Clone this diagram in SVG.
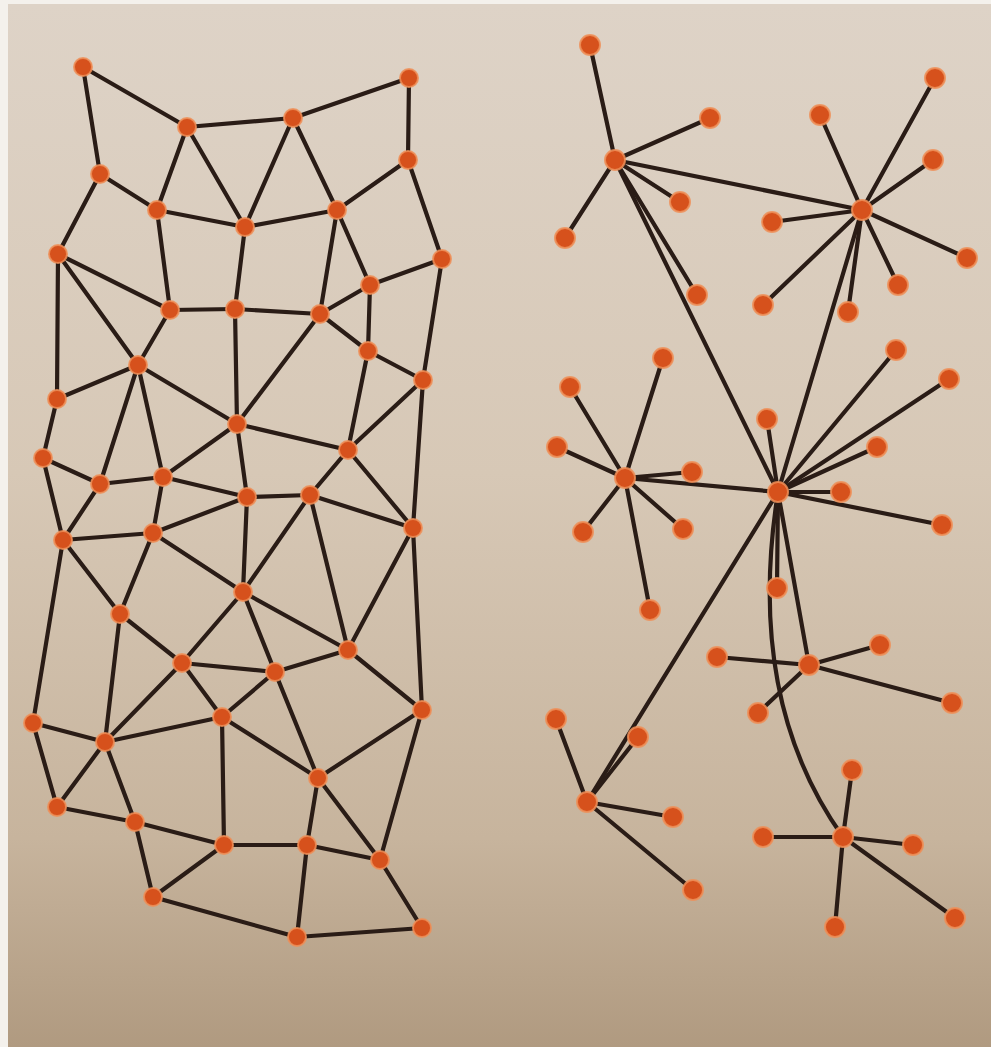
<svg xmlns="http://www.w3.org/2000/svg" width="991" height="1047" viewBox="0 0 991 1047">
<defs>
<linearGradient id="paper" x1="0" y1="0" x2="0" y2="1">
<stop offset="0" stop-color="#ded3c7"/>
<stop offset="0.45" stop-color="#d7c8b6"/>
<stop offset="0.8" stop-color="#c7b49d"/>
<stop offset="1" stop-color="#b09a80"/>
</linearGradient>
<style>
.e{stroke:#2a1c16;stroke-width:4.2;stroke-linecap:round;fill:none}
.n{fill:#d6511c;stroke:#ee8f58;stroke-width:2;stroke-opacity:0.85}
.s{r:9}
.b{r:10}
</style>
</defs>
<rect width="991" height="1047" fill="#f4f1ec"/>
<rect x="8" y="4" width="983" height="1043" fill="url(#paper)"/>
<g id="connectors">
<line class="e" x1="83" y1="67" x2="187" y2="127"/>
<line class="e" x1="83" y1="67" x2="100" y2="174"/>
<line class="e" x1="187" y1="127" x2="293" y2="118"/>
<line class="e" x1="293" y1="118" x2="409" y2="78"/>
<line class="e" x1="409" y1="78" x2="408" y2="160"/>
<line class="e" x1="187" y1="127" x2="157" y2="210"/>
<line class="e" x1="187" y1="127" x2="245" y2="227"/>
<line class="e" x1="293" y1="118" x2="245" y2="227"/>
<line class="e" x1="293" y1="118" x2="337" y2="210"/>
<line class="e" x1="100" y1="174" x2="157" y2="210"/>
<line class="e" x1="100" y1="174" x2="58" y2="254"/>
<line class="e" x1="157" y1="210" x2="245" y2="227"/>
<line class="e" x1="245" y1="227" x2="337" y2="210"/>
<line class="e" x1="337" y1="210" x2="408" y2="160"/>
<line class="e" x1="408" y1="160" x2="442" y2="259"/>
<line class="e" x1="157" y1="210" x2="170" y2="310"/>
<line class="e" x1="245" y1="227" x2="235" y2="309"/>
<line class="e" x1="337" y1="210" x2="320" y2="314"/>
<line class="e" x1="337" y1="210" x2="370" y2="285"/>
<line class="e" x1="370" y1="285" x2="442" y2="259"/>
<line class="e" x1="58" y1="254" x2="170" y2="310"/>
<line class="e" x1="58" y1="254" x2="138" y2="365"/>
<line class="e" x1="58" y1="254" x2="57" y2="399"/>
<line class="e" x1="170" y1="310" x2="235" y2="309"/>
<line class="e" x1="235" y1="309" x2="320" y2="314"/>
<line class="e" x1="320" y1="314" x2="370" y2="285"/>
<line class="e" x1="320" y1="314" x2="368" y2="351"/>
<line class="e" x1="370" y1="285" x2="368" y2="351"/>
<line class="e" x1="170" y1="310" x2="138" y2="365"/>
<line class="e" x1="235" y1="309" x2="237" y2="424"/>
<line class="e" x1="320" y1="314" x2="237" y2="424"/>
<line class="e" x1="368" y1="351" x2="423" y2="380"/>
<line class="e" x1="442" y1="259" x2="423" y2="380"/>
<line class="e" x1="138" y1="365" x2="57" y2="399"/>
<line class="e" x1="138" y1="365" x2="100" y2="484"/>
<line class="e" x1="138" y1="365" x2="163" y2="477"/>
<line class="e" x1="138" y1="365" x2="237" y2="424"/>
<line class="e" x1="237" y1="424" x2="348" y2="450"/>
<line class="e" x1="237" y1="424" x2="163" y2="477"/>
<line class="e" x1="237" y1="424" x2="247" y2="497"/>
<line class="e" x1="368" y1="351" x2="348" y2="450"/>
<line class="e" x1="423" y1="380" x2="348" y2="450"/>
<line class="e" x1="423" y1="380" x2="413" y2="528"/>
<line class="e" x1="348" y1="450" x2="310" y2="495"/>
<line class="e" x1="348" y1="450" x2="413" y2="528"/>
<line class="e" x1="57" y1="399" x2="43" y2="458"/>
<line class="e" x1="43" y1="458" x2="100" y2="484"/>
<line class="e" x1="43" y1="458" x2="63" y2="540"/>
<line class="e" x1="100" y1="484" x2="163" y2="477"/>
<line class="e" x1="100" y1="484" x2="63" y2="540"/>
<line class="e" x1="163" y1="477" x2="247" y2="497"/>
<line class="e" x1="163" y1="477" x2="153" y2="533"/>
<line class="e" x1="247" y1="497" x2="310" y2="495"/>
<line class="e" x1="247" y1="497" x2="153" y2="533"/>
<line class="e" x1="247" y1="497" x2="243" y2="592"/>
<line class="e" x1="310" y1="495" x2="413" y2="528"/>
<line class="e" x1="310" y1="495" x2="243" y2="592"/>
<line class="e" x1="310" y1="495" x2="348" y2="650"/>
<line class="e" x1="413" y1="528" x2="348" y2="650"/>
<line class="e" x1="413" y1="528" x2="422" y2="710"/>
<line class="e" x1="63" y1="540" x2="153" y2="533"/>
<line class="e" x1="63" y1="540" x2="120" y2="614"/>
<line class="e" x1="63" y1="540" x2="33" y2="723"/>
<line class="e" x1="153" y1="533" x2="120" y2="614"/>
<line class="e" x1="153" y1="533" x2="243" y2="592"/>
<line class="e" x1="243" y1="592" x2="182" y2="663"/>
<line class="e" x1="243" y1="592" x2="275" y2="672"/>
<line class="e" x1="243" y1="592" x2="348" y2="650"/>
<line class="e" x1="120" y1="614" x2="182" y2="663"/>
<line class="e" x1="120" y1="614" x2="105" y2="742"/>
<line class="e" x1="348" y1="650" x2="275" y2="672"/>
<line class="e" x1="348" y1="650" x2="422" y2="710"/>
<line class="e" x1="182" y1="663" x2="275" y2="672"/>
<line class="e" x1="182" y1="663" x2="105" y2="742"/>
<line class="e" x1="182" y1="663" x2="222" y2="717"/>
<line class="e" x1="275" y1="672" x2="222" y2="717"/>
<line class="e" x1="275" y1="672" x2="318" y2="778"/>
<line class="e" x1="33" y1="723" x2="105" y2="742"/>
<line class="e" x1="33" y1="723" x2="57" y2="807"/>
<line class="e" x1="105" y1="742" x2="222" y2="717"/>
<line class="e" x1="105" y1="742" x2="57" y2="807"/>
<line class="e" x1="105" y1="742" x2="135" y2="822"/>
<line class="e" x1="222" y1="717" x2="318" y2="778"/>
<line class="e" x1="222" y1="717" x2="224" y2="845"/>
<line class="e" x1="422" y1="710" x2="318" y2="778"/>
<line class="e" x1="422" y1="710" x2="380" y2="860"/>
<line class="e" x1="318" y1="778" x2="307" y2="845"/>
<line class="e" x1="318" y1="778" x2="380" y2="860"/>
<line class="e" x1="57" y1="807" x2="135" y2="822"/>
<line class="e" x1="135" y1="822" x2="224" y2="845"/>
<line class="e" x1="135" y1="822" x2="153" y2="897"/>
<line class="e" x1="224" y1="845" x2="307" y2="845"/>
<line class="e" x1="224" y1="845" x2="153" y2="897"/>
<line class="e" x1="307" y1="845" x2="380" y2="860"/>
<line class="e" x1="307" y1="845" x2="297" y2="937"/>
<line class="e" x1="380" y1="860" x2="422" y2="928"/>
<line class="e" x1="153" y1="897" x2="297" y2="937"/>
<line class="e" x1="297" y1="937" x2="422" y2="928"/>
<line class="e" x1="615" y1="160" x2="590" y2="45"/>
<line class="e" x1="615" y1="160" x2="710" y2="118"/>
<line class="e" x1="615" y1="160" x2="680" y2="202"/>
<line class="e" x1="615" y1="160" x2="565" y2="238"/>
<line class="e" x1="615" y1="160" x2="697" y2="295"/>
<line class="e" x1="615" y1="160" x2="862" y2="210"/>
<line class="e" x1="615" y1="160" x2="778" y2="492"/>
<line class="e" x1="862" y1="210" x2="820" y2="115"/>
<line class="e" x1="862" y1="210" x2="935" y2="78"/>
<line class="e" x1="862" y1="210" x2="933" y2="160"/>
<line class="e" x1="862" y1="210" x2="772" y2="222"/>
<line class="e" x1="862" y1="210" x2="967" y2="258"/>
<line class="e" x1="862" y1="210" x2="898" y2="285"/>
<line class="e" x1="862" y1="210" x2="763" y2="305"/>
<line class="e" x1="862" y1="210" x2="848" y2="312"/>
<line class="e" x1="862" y1="210" x2="778" y2="492"/>
<line class="e" x1="625" y1="478" x2="663" y2="358"/>
<line class="e" x1="625" y1="478" x2="570" y2="387"/>
<line class="e" x1="625" y1="478" x2="557" y2="447"/>
<line class="e" x1="625" y1="478" x2="692" y2="472"/>
<line class="e" x1="625" y1="478" x2="583" y2="532"/>
<line class="e" x1="625" y1="478" x2="683" y2="529"/>
<line class="e" x1="625" y1="478" x2="650" y2="610"/>
<line class="e" x1="625" y1="478" x2="778" y2="492"/>
<line class="e" x1="778" y1="492" x2="767" y2="419"/>
<line class="e" x1="778" y1="492" x2="896" y2="350"/>
<line class="e" x1="778" y1="492" x2="949" y2="379"/>
<line class="e" x1="778" y1="492" x2="877" y2="447"/>
<line class="e" x1="778" y1="492" x2="841" y2="492"/>
<line class="e" x1="778" y1="492" x2="942" y2="525"/>
<line class="e" x1="778" y1="492" x2="777" y2="588"/>
<line class="e" x1="778" y1="492" x2="809" y2="665"/>
<line class="e" x1="778" y1="492" x2="587" y2="802"/>
<path class="e" d="M778 492 Q745 700 843 837"/>
<line class="e" x1="809" y1="665" x2="717" y2="657"/>
<line class="e" x1="809" y1="665" x2="880" y2="645"/>
<line class="e" x1="809" y1="665" x2="758" y2="713"/>
<line class="e" x1="809" y1="665" x2="952" y2="703"/>
<line class="e" x1="587" y1="802" x2="556" y2="719"/>
<line class="e" x1="587" y1="802" x2="638" y2="737"/>
<line class="e" x1="587" y1="802" x2="673" y2="817"/>
<line class="e" x1="587" y1="802" x2="693" y2="890"/>
<line class="e" x1="843" y1="837" x2="852" y2="770"/>
<line class="e" x1="843" y1="837" x2="763" y2="837"/>
<line class="e" x1="843" y1="837" x2="913" y2="845"/>
<line class="e" x1="843" y1="837" x2="835" y2="927"/>
<line class="e" x1="843" y1="837" x2="955" y2="918"/>
</g>
<g id="n-A"><circle class="n s" cx="83" cy="67"/></g>
<g id="n-B"><circle class="n s" cx="409" cy="78"/></g>
<g id="n-C"><circle class="n s" cx="187" cy="127"/></g>
<g id="n-D"><circle class="n s" cx="293" cy="118"/></g>
<g id="n-E"><circle class="n s" cx="100" cy="174"/></g>
<g id="n-F"><circle class="n s" cx="408" cy="160"/></g>
<g id="n-G"><circle class="n s" cx="157" cy="210"/></g>
<g id="n-H"><circle class="n s" cx="245" cy="227"/></g>
<g id="n-I"><circle class="n s" cx="337" cy="210"/></g>
<g id="n-J"><circle class="n s" cx="58" cy="254"/></g>
<g id="n-K"><circle class="n s" cx="442" cy="259"/></g>
<g id="n-L"><circle class="n s" cx="370" cy="285"/></g>
<g id="n-M"><circle class="n s" cx="170" cy="310"/></g>
<g id="n-N"><circle class="n s" cx="235" cy="309"/></g>
<g id="n-O"><circle class="n s" cx="320" cy="314"/></g>
<g id="n-P"><circle class="n s" cx="368" cy="351"/></g>
<g id="n-Q"><circle class="n s" cx="138" cy="365"/></g>
<g id="n-R"><circle class="n s" cx="423" cy="380"/></g>
<g id="n-S"><circle class="n s" cx="57" cy="399"/></g>
<g id="n-T"><circle class="n s" cx="237" cy="424"/></g>
<g id="n-U"><circle class="n s" cx="348" cy="450"/></g>
<g id="n-V"><circle class="n s" cx="43" cy="458"/></g>
<g id="n-W"><circle class="n s" cx="100" cy="484"/></g>
<g id="n-X"><circle class="n s" cx="163" cy="477"/></g>
<g id="n-Y"><circle class="n s" cx="247" cy="497"/></g>
<g id="n-Z"><circle class="n s" cx="310" cy="495"/></g>
<g id="n-AA"><circle class="n s" cx="413" cy="528"/></g>
<g id="n-AB"><circle class="n s" cx="63" cy="540"/></g>
<g id="n-AC"><circle class="n s" cx="153" cy="533"/></g>
<g id="n-AD"><circle class="n s" cx="243" cy="592"/></g>
<g id="n-AE"><circle class="n s" cx="120" cy="614"/></g>
<g id="n-AF"><circle class="n s" cx="348" cy="650"/></g>
<g id="n-AG"><circle class="n s" cx="182" cy="663"/></g>
<g id="n-AH"><circle class="n s" cx="275" cy="672"/></g>
<g id="n-AI"><circle class="n s" cx="422" cy="710"/></g>
<g id="n-AJ"><circle class="n s" cx="33" cy="723"/></g>
<g id="n-AK"><circle class="n s" cx="105" cy="742"/></g>
<g id="n-AL"><circle class="n s" cx="222" cy="717"/></g>
<g id="n-AM"><circle class="n s" cx="318" cy="778"/></g>
<g id="n-AN"><circle class="n s" cx="57" cy="807"/></g>
<g id="n-AO"><circle class="n s" cx="135" cy="822"/></g>
<g id="n-AP"><circle class="n s" cx="224" cy="845"/></g>
<g id="n-AQ"><circle class="n s" cx="307" cy="845"/></g>
<g id="n-AR"><circle class="n s" cx="380" cy="860"/></g>
<g id="n-AS"><circle class="n s" cx="153" cy="897"/></g>
<g id="n-AT"><circle class="n s" cx="297" cy="937"/></g>
<g id="n-AU"><circle class="n s" cx="422" cy="928"/></g>
<g id="hub1"><circle class="n b" cx="615" cy="160"/></g>
<g id="hub2"><circle class="n b" cx="862" cy="210"/></g>
<g id="hub3"><circle class="n b" cx="625" cy="478"/></g>
<g id="hub-main"><circle class="n b" cx="778" cy="492"/></g>
<g id="hub4"><circle class="n b" cx="809" cy="665"/></g>
<g id="hub5"><circle class="n b" cx="843" cy="837"/></g>
<g id="hub6"><circle class="n b" cx="587" cy="802"/></g>
<g id="r1"><circle class="n b" cx="590" cy="45"/></g>
<g id="r2"><circle class="n b" cx="710" cy="118"/></g>
<g id="r3"><circle class="n b" cx="680" cy="202"/></g>
<g id="r4"><circle class="n b" cx="565" cy="238"/></g>
<g id="r5"><circle class="n b" cx="697" cy="295"/></g>
<g id="r6"><circle class="n b" cx="820" cy="115"/></g>
<g id="r7"><circle class="n b" cx="935" cy="78"/></g>
<g id="r8"><circle class="n b" cx="933" cy="160"/></g>
<g id="r9"><circle class="n b" cx="772" cy="222"/></g>
<g id="r10"><circle class="n b" cx="967" cy="258"/></g>
<g id="r11"><circle class="n b" cx="898" cy="285"/></g>
<g id="r12"><circle class="n b" cx="763" cy="305"/></g>
<g id="r13"><circle class="n b" cx="848" cy="312"/></g>
<g id="r14"><circle class="n b" cx="663" cy="358"/></g>
<g id="r15"><circle class="n b" cx="896" cy="350"/></g>
<g id="r16"><circle class="n b" cx="570" cy="387"/></g>
<g id="r17"><circle class="n b" cx="557" cy="447"/></g>
<g id="r18"><circle class="n b" cx="692" cy="472"/></g>
<g id="r19"><circle class="n b" cx="583" cy="532"/></g>
<g id="r20"><circle class="n b" cx="683" cy="529"/></g>
<g id="r21"><circle class="n b" cx="650" cy="610"/></g>
<g id="r22"><circle class="n b" cx="767" cy="419"/></g>
<g id="r23"><circle class="n b" cx="949" cy="379"/></g>
<g id="r24"><circle class="n b" cx="877" cy="447"/></g>
<g id="r25"><circle class="n b" cx="841" cy="492"/></g>
<g id="r26"><circle class="n b" cx="942" cy="525"/></g>
<g id="r27"><circle class="n b" cx="777" cy="588"/></g>
<g id="r28"><circle class="n b" cx="717" cy="657"/></g>
<g id="r29"><circle class="n b" cx="880" cy="645"/></g>
<g id="r30"><circle class="n b" cx="758" cy="713"/></g>
<g id="r31"><circle class="n b" cx="952" cy="703"/></g>
<g id="r32"><circle class="n b" cx="556" cy="719"/></g>
<g id="r33"><circle class="n b" cx="638" cy="737"/></g>
<g id="r34"><circle class="n b" cx="673" cy="817"/></g>
<g id="r35"><circle class="n b" cx="693" cy="890"/></g>
<g id="r36"><circle class="n b" cx="852" cy="770"/></g>
<g id="r37"><circle class="n b" cx="763" cy="837"/></g>
<g id="r38"><circle class="n b" cx="913" cy="845"/></g>
<g id="r39"><circle class="n b" cx="835" cy="927"/></g>
<g id="r40"><circle class="n b" cx="955" cy="918"/></g>
</svg>
